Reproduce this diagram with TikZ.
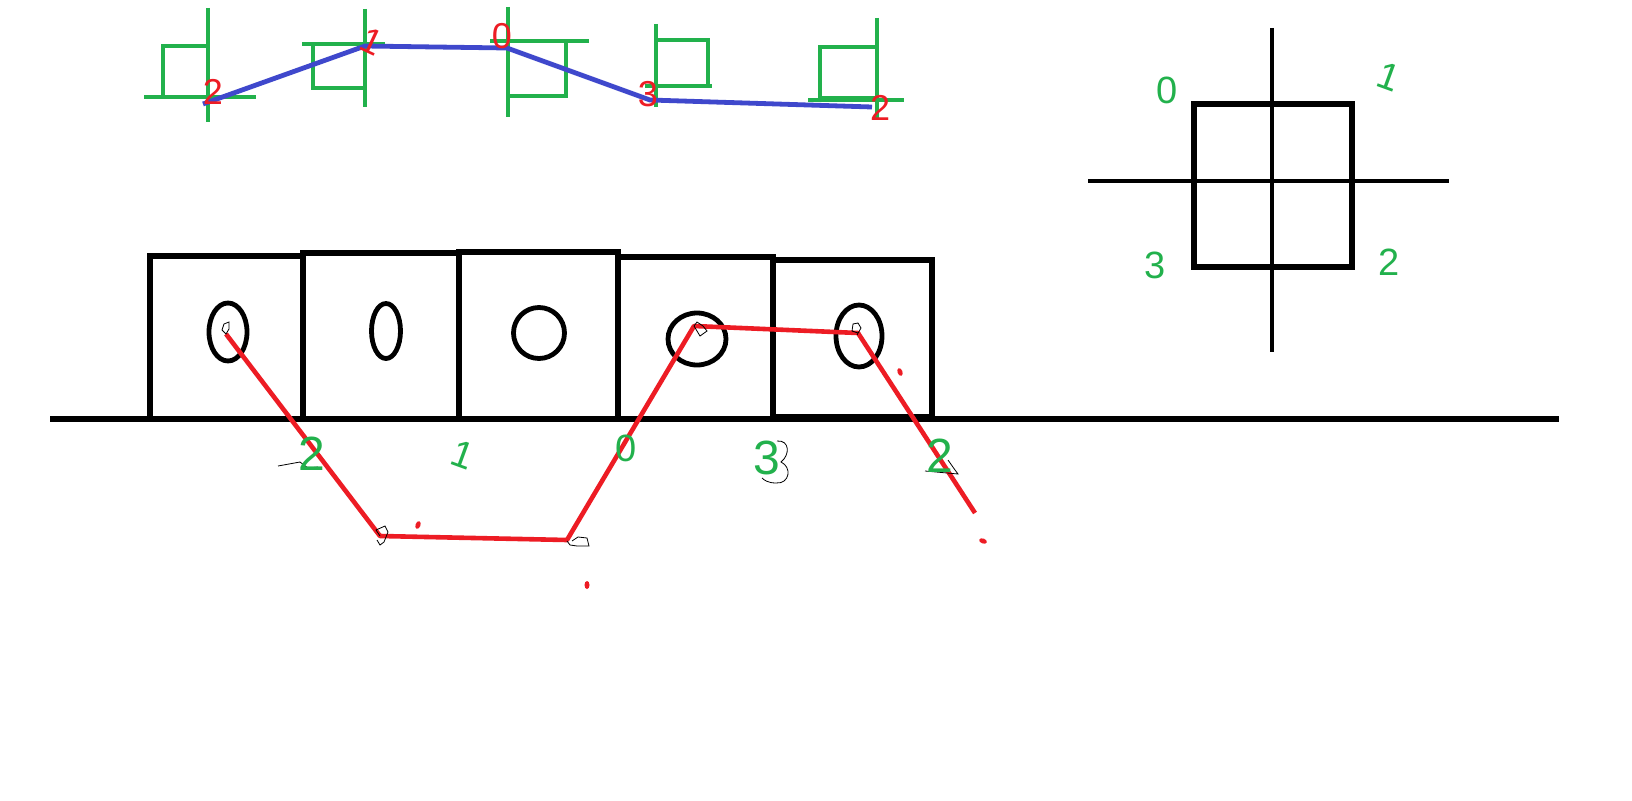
\documentclass[tikz,border=0pt]{standalone}
\usepackage{fontspec}
\setmainfont{Liberation Sans}
\usetikzlibrary{shapes.geometric}
\definecolor{pgreen}{HTML}{22B14C}
\definecolor{pred}{HTML}{ED1C24}
\definecolor{pblue}{HTML}{3F48CC}
\tikzset{
  blk/.style={draw=black,line width=5.5pt},
  boxst/.style={draw=black,line width=5.5pt,rectangle,inner sep=0pt},
  ell/.style={draw=black,line width=4.8pt,ellipse,inner sep=0pt},
  gsq/.style={draw=pgreen,line width=4.6pt,rectangle,inner sep=0pt},
  gline/.style={draw=pgreen,line width=4.6pt},
  bline/.style={draw=pblue,line width=4.8pt,line join=round},
  rline/.style={draw=pred,line width=4.6pt,line join=round},
  rdot/.style={fill=pred,ellipse,inner sep=0pt,minimum width=5pt,minimum height=8pt},
  rnum/.style={text=pred,font=\fontsize{36}{36}\selectfont,inner sep=0pt},
  gnum/.style={text=pgreen,font=\fontsize{38}{38}\selectfont,inner sep=0pt},
  gbig/.style={text=pgreen,font=\fontsize{48}{48}\selectfont,inner sep=0pt},
  scrib/.style={draw=black,line width=0.8pt},
}
\begin{document}
\begin{tikzpicture}[x=1pt,y=-1pt]
\useasboundingbox (0,0) rectangle (1632,800);
\fill[white] (0,0) rectangle (1632,800);

% ---------- top row: green squares and crosses ----------
\node[gsq,minimum width=45pt,minimum height=51pt] (s1) at (185.5,71.5) {};
\coordinate (c1t) at (208,8);   \coordinate (c1b) at (208,122);
\coordinate (c1l) at (144,97);  \coordinate (c1r) at (256,97);
\draw[gline] (c1t) -- (c1b); \draw[gline] (c1l) -- (c1r);

\node[gsq,minimum width=52pt,minimum height=44pt] (s2) at (339,66) {};
\coordinate (c2t) at (365,9);   \coordinate (c2b) at (365,107);
\coordinate (c2l) at (302,44);  \coordinate (c2r) at (385,44);
\draw[gline] (c2t) -- (c2b); \draw[gline] (c2l) -- (c2r);

\node[gsq,minimum width=58pt,minimum height=55pt] (s3) at (537,68.5) {};
\coordinate (c3t) at (508,7);   \coordinate (c3b) at (508,117);
\coordinate (c3l) at (490,41);  \coordinate (c3r) at (589,41);
\draw[gline] (c3t) -- (c3b); \draw[gline] (c3l) -- (c3r);

\node[gsq,minimum width=52pt,minimum height=46pt] (s4) at (682,63) {};
\coordinate (c4t) at (656,24);  \coordinate (c4b) at (656,107);
\coordinate (c4l) at (645,86);  \coordinate (c4r) at (712,86);
\draw[gline] (c4t) -- (c4b); \draw[gline] (c4l) -- (c4r);

\node[gsq,minimum width=57pt,minimum height=51pt] (s5) at (848.5,72.5) {};
\coordinate (c5t) at (877,18);  \coordinate (c5b) at (877,118);
\coordinate (c5l) at (808,100); \coordinate (c5r) at (904,100);
\draw[gline] (c5t) -- (c5b); \draw[gline] (c5l) -- (c5r);

% blue path
\coordinate (p0) at (203,104);
\coordinate (p1) at (365,46);
\coordinate (p2) at (507,48);
\coordinate (p3) at (650,100);
\coordinate (p4) at (872,107);
\draw[bline] (p0) -- (p1) -- (p2) -- (p3) -- (p4);

% red numbers top
\node[rnum] (t2a) at (213,92) {2};
\node[rnum,rotate=-25] (t1) at (372,42) {1};
\node[rnum] (t0) at (502,36) {0};
\node[rnum] (t3) at (648,94) {3};
\node[rnum] (t2b) at (880,108) {2};

% ---------- right: square with cross ----------
\node[boxst,minimum width=158pt,minimum height=163pt] (q) at (1273,185.5) {};
\coordinate (qt) at (1272,28);  \coordinate (qb) at (1272,352);
\coordinate (ql) at (1088,181); \coordinate (qr) at (1449,181);
\draw[blk,line width=4.8pt] (qt) -- (qb);
\draw[blk,line width=4.8pt] (ql) -- (qr);
\node[gnum] (q0) at (1167,90) {0};
\node[gnum,rotate=-20] (q1) at (1389,77) {1};
\node[gnum] (q3) at (1155,265) {3};
\node[gnum] (q2) at (1389,262) {2};

% ---------- bottom: boxes on ground ----------
\coordinate (gl) at (50,419); \coordinate (gr) at (1559,419);
\draw[blk] (gl) -- (gr);
\node[boxst,minimum width=153pt,minimum height=163pt] (b1) at (226.5,337.5) {};
\node[boxst,minimum width=156pt,minimum height=166pt] (b2) at (381,336) {};
\node[boxst,minimum width=159pt,minimum height=167pt] (b3) at (538.5,335.5) {};
\node[boxst,minimum width=155pt,minimum height=162pt] (b4) at (695.5,338) {};
\node[boxst,minimum width=159pt,minimum height=157pt] (b5) at (852.5,338.5) {};

\node[ell,minimum width=38pt,minimum height=58pt] (e1) at (228,332) {};
\node[ell,minimum width=29pt,minimum height=55pt] (e2) at (386,331) {};
\node[ell,minimum width=51pt,minimum height=51pt] (e3) at (539,333) {};
\node[ell,minimum width=58pt,minimum height=52pt] (e4) at (697,339) {};
\node[ell,minimum width=46pt,minimum height=62pt] (e5) at (859,336) {};

% red path
\coordinate (r0) at (226,334);
\coordinate (r1) at (380,536);
\coordinate (r2) at (567,540);
\coordinate (r3) at (694,326);
\coordinate (r4) at (858,333);
\coordinate (r5) at (975,513);
\draw[rline] (r0) -- (r1) -- (r2) -- (r3) -- (r4) -- (r5);

% thin scribbles
\draw[scrib] (226,334) -- (222,330) -- (224,324) -- (229,322) -- (229,329) -- cycle;
\draw[scrib] (380,536) -- (376,530) -- (385,526) -- (388,532) -- (384,542) -- (380,545) -- (377,540);
\draw[scrib] (567,541) -- (570,545) -- (577,546) -- (589,546) -- (587,538) -- (578,537) -- (572,541);
\draw[scrib] (694,326) -- (697,322) -- (703,326) -- (707,331) -- (700,336) -- (697,331) -- cycle;
\draw[scrib] (858,333) -- (852,331) -- (853,324) -- (858,323) -- (861,328) -- (857,335);
\draw[scrib] (777,441) .. controls (790,440) and (790,455) .. (781,462) .. controls (792,467) and (790,484) .. (776,483) .. controls (768,483) and (764,480) .. (762,478);
\draw[scrib] (925,471) -- (958,474) -- (955,470) -- (948,460);
\draw[scrib] (278,466) -- (300,462) -- (308,468) -- (318,467);

% red dots
\node[rdot,rotate=-20] (d1) at (418,525) {};
\node[rdot] (d2) at (587,585) {};
\node[rdot,rotate=20] (d3) at (900,372) {};
\node[rdot,rotate=70] (d4) at (983,541) {};

% green labels below ground
\node[gbig] (g2a) at (312,454) {2};
\node[gnum,rotate=-20] (g1) at (463,455) {1};
\node[gnum] (g0) at (626,448) {0};
\node[gbig] (g3) at (767,458) {3};
\node[gbig] (g2b) at (940,456) {2};
\end{tikzpicture}
\end{document}
